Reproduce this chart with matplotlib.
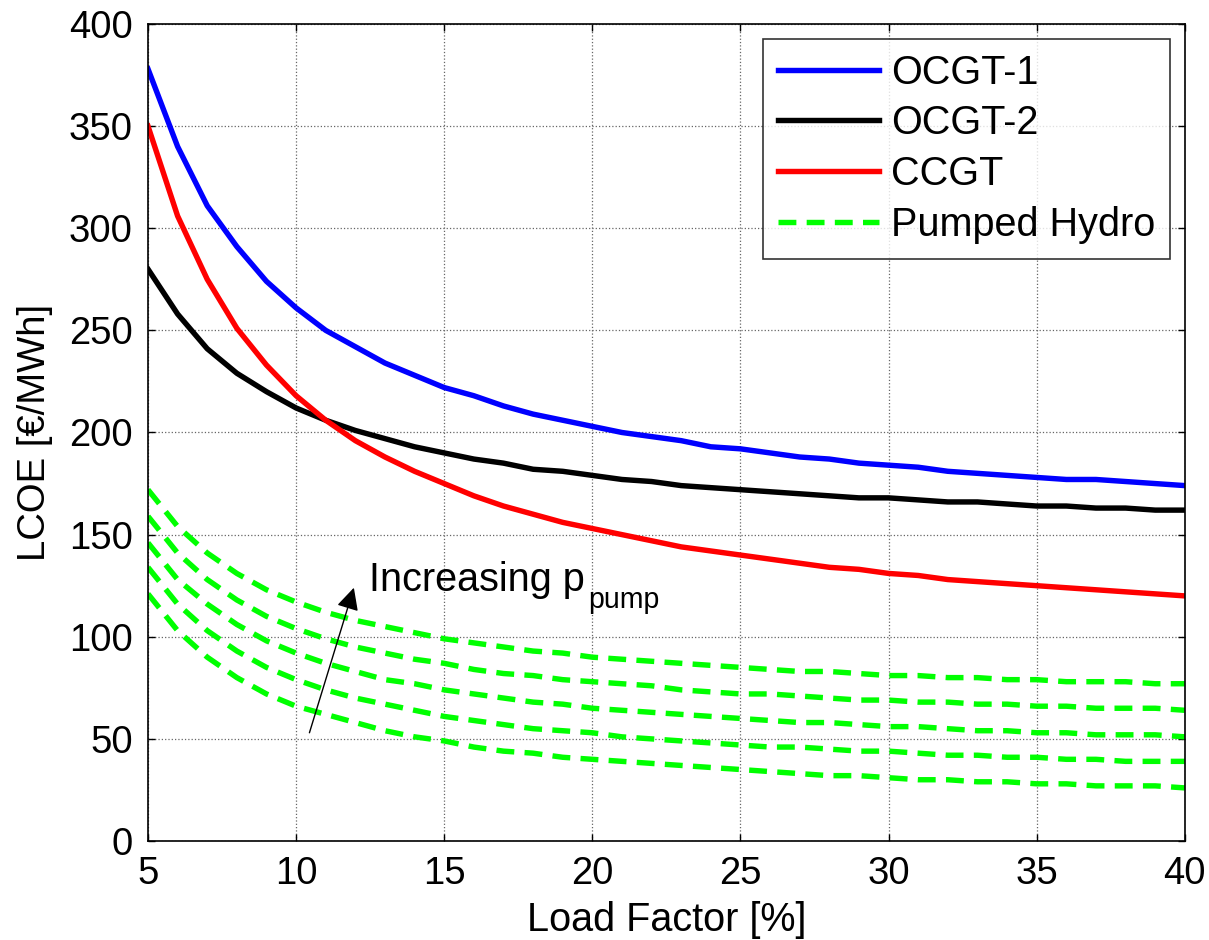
import matplotlib
matplotlib.use("Agg")
import matplotlib.pyplot as plt
from matplotlib.transforms import offset_copy

plt.rcParams['font.family'] = ['Liberation Sans', 'DejaVu Sans']

load_factor = list(range(5, 41))

ocgt1 = [378, 340, 311, 291, 274, 261, 250, 242, 234, 228, 222, 218, 213, 209, 206, 203,
         200, 198, 196, 193, 192, 190, 188, 187, 185, 184, 183, 181, 180, 179, 178, 177,
         177, 176, 175, 174]
ocgt2 = [280, 258, 241, 229, 220, 212, 206, 201, 197, 193, 190, 187, 185, 182, 181, 179,
         177, 176, 174, 173, 172, 171, 170, 169, 168, 168, 167, 166, 166, 165, 164, 164,
         163, 163, 162, 162]
ccgt = [350, 306, 275, 251, 233, 218, 206, 196, 188, 181, 175, 169, 164, 160, 156, 153,
        150, 147, 144, 142, 140, 138, 136, 134, 133, 131, 130, 128, 127, 126, 125, 124,
        123, 122, 121, 120]

ph5 = [172, 154, 141, 131, 123, 117, 112, 108, 105, 102, 99, 97, 95, 93, 92, 90, 89, 88,
       87, 86, 85, 84, 83, 83, 82, 81, 81, 80, 80, 79, 79, 78, 78, 78, 77, 77]
ph4 = [159, 141, 128, 118, 110, 104, 99, 95, 92, 89, 87, 84, 82, 81, 79, 78, 77, 76, 74,
       73, 72, 72, 71, 70, 69, 69, 68, 68, 67, 67, 66, 66, 65, 65, 65, 64]
ph3 = [146, 128, 116, 106, 98, 92, 87, 83, 79, 77, 74, 72, 70, 68, 67, 65, 64, 63, 62, 61,
       60, 59, 58, 58, 57, 56, 56, 55, 54, 54, 53, 53, 52, 52, 52, 51]
ph2 = [134, 116, 103, 93, 85, 79, 74, 70, 67, 64, 61, 59, 57, 55, 54, 53, 51, 50, 49, 48,
       47, 46, 46, 45, 44, 44, 43, 42, 42, 41, 41, 40, 40, 39, 39, 39]
ph1 = [121, 103, 90, 80, 72, 66, 62, 58, 54, 51, 49, 46, 44, 43, 41, 40, 39, 38, 37, 36,
       35, 34, 33, 32, 32, 31, 30, 30, 29, 29, 28, 28, 27, 27, 27, 26]
pumped_hydro = [ph1, ph2, ph3, ph4, ph5]

x_ticks = [5, 10, 15, 20, 25, 30, 35, 40]
y_ticks = [0, 50, 100, 150, 200, 250, 300, 350, 400]

FS = 27.5
FS_LAB = 28.5

fig = plt.figure(figsize=(12.09, 9.40), dpi=100)
ax = fig.add_axes([0.1224, 0.1053, 0.8576, 0.8692])

lw = 3.9
ax.plot(load_factor, ocgt1, color='#0000ff', lw=lw, label='OCGT-1')
ax.plot(load_factor, ocgt2, color='black', lw=lw, label='OCGT-2')
ax.plot(load_factor, ccgt, color='#ff0000', lw=lw, label='CCGT')
for i, ph in enumerate(pumped_hydro):
    ax.plot(load_factor, ph, color='#00ff00', lw=lw, ls=(0, (3.3, 1.9)),
            label='Pumped Hydro' if i == 0 else None)

ax.set_xlim(5, 40)
ax.set_ylim(0, 400)
ax.set_xticks(x_ticks)
ax.set_yticks(y_ticks)
ax.tick_params(direction='in', top=True, right=True, labelsize=FS, length=5, width=1)
ax.tick_params(axis='x', pad=11)
ax.tick_params(axis='y', pad=11)
ax.grid(True, color='#666666', ls=':', lw=0.9)
for s in ax.spines.values():
    s.set_linewidth(1.2)

ax.set_xlabel('Load Factor [%]', fontsize=FS_LAB, labelpad=6)
ax.set_ylabel('LCOE [€/MWh]', fontsize=27.5, labelpad=11)

leg = ax.legend(loc='upper right', fontsize=FS_LAB, frameon=True, fancybox=False,
                edgecolor='black', handlelength=2.55, borderaxespad=0.37,
                labelspacing=0.32, handletextpad=0.3, borderpad=0.38)
leg.get_frame().set_linewidth(1.2)

ax.annotate('', xy=(11.95, 124), xytext=(10.45, 53),
            arrowprops=dict(arrowstyle='-|>', color='black', lw=1, mutation_scale=34,
                            shrinkA=0, shrinkB=0))
main = ax.text(12.45, 122.5, 'Increasing p', fontsize=FS_LAB, va='baseline')
fig.canvas.draw()
bb = main.get_window_extent()
x_end = ax.transData.inverted().transform((bb.x1, bb.y0))[0]
sub_tr = offset_copy(ax.transData, fig=fig, x=4, y=-17, units='dots')
ax.text(x_end, 122.5, 'pump', fontsize=FS_LAB * 0.72, va='baseline', transform=sub_tr)

fig.savefig('out.png', dpi=100)
